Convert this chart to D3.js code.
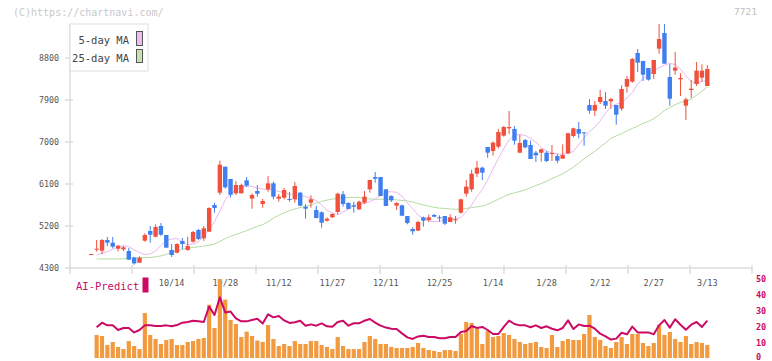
<!DOCTYPE html>
<html><head><meta charset="utf-8">
<script src="https://cdn.jsdelivr.net/npm/d3@7"></script>
<style>
html,body{margin:0;padding:0;background:#fff;}
svg{display:block;font-family:"DejaVu Sans Mono",monospace;}
</style></head>
<body><svg id="chart" width="772" height="361"></svg>
<script>
const openP = [4586,4700,4671,4900,4842,4714,4700,4664,4521,4414,4886,5093,4971,5200,5007,4686,4628,4879,4686,4864,
5114,4936,5079,5650,5914,6471,6207,5900,5900,6179,5786,5950,5671,5986,6114,5786,5807,5779,5771,5914,
5614,5700,5543,5493,5314,5386,5500,5879,5693,5643,5557,5700,5986,6250,6250,5986,5843,5636,5643,5414,
5136,5100,5386,5329,5436,5386,5414,5286,5329,5486,5893,5986,6321,6450,6893,6807,6900,7136,7293,7279,
6771,7043,6936,6771,6771,6771,6750,6700,6643,6757,7129,7279,7207,7793,7671,7857,7879,7871,7793,7714,
8186,8293,8907,8736,8586,8457,9000,9336,8393,8529,8343,7779,8114,8243,8379,8200];
const highP = [4600,4900,4921,4964,4964,4793,4771,4729,4543,4550,5043,5200,5236,5264,5007,4814,4829,4943,4971,5093,
5136,5200,5600,5700,6600,6471,6207,6164,6107,6250,5900,6079,5779,6271,6150,5886,6014,5929,6143,5929,
5671,5857,5629,5514,5386,5471,5914,5950,5707,5721,5743,5950,6186,6357,6250,5986,5857,5707,5657,5414,
5171,5314,5400,5443,5457,5429,5414,5450,5414,5786,6186,6407,6593,6471,6893,7014,7279,7343,7664,7343,
7157,7064,7029,6807,6857,6807,6936,6743,6950,7200,7307,7429,7207,7921,7879,8114,8071,7943,7793,8214,
8414,8800,8993,8736,8586,8757,9529,9529,8671,8929,8471,7950,8329,8714,8664,8650];
const lowP = [4586,4650,4593,4771,4721,4657,4664,4471,4371,4407,4864,4843,4957,4986,4736,4536,4614,4700,4671,4843,
4900,4879,5071,5486,5864,6000,5807,5864,5900,6036,5571,5829,5593,5936,5771,5721,5771,5721,5700,5621,
5357,5593,5364,5164,5293,5371,5450,5614,5564,5486,5543,5671,5914,6129,5843,5629,5714,5543,5414,5236,
5014,5093,5186,5286,5386,5293,5221,5286,5250,5464,5829,5936,6250,6186,6664,6707,6864,7114,7171,6943,
6764,6864,6636,6571,6579,6571,6593,6543,6636,6736,7100,7079,6921,7607,7557,7814,7707,7714,7371,7671,
8057,8271,8500,8307,8314,8350,8893,8679,7779,8443,7986,7471,7943,8200,8293,8200];
const closeP = [4600,4714,4900,4842,4757,4778,4743,4478,4400,4521,5007,5014,5179,5014,4736,4579,4814,4814,4771,5071,
4921,5150,5586,5586,6514,6029,5871,6079,6079,6064,5864,5893,5736,6114,5829,5829,5971,5764,6057,5636,
5571,5771,5371,5271,5357,5457,5893,5671,5564,5614,5721,5829,6186,6214,5843,5629,5750,5693,5421,5264,
5086,5286,5314,5386,5400,5364,5250,5386,5343,5771,6043,6321,6450,6343,6771,6986,7214,7321,7321,7029,
6979,6886,6636,6714,6843,6593,6764,6600,6721,7186,7293,7179,7193,7671,7793,7964,7779,7921,7586,8136,
8350,8779,8700,8443,8336,8757,9207,8679,7929,8593,8371,7914,8143,8529,8529,8564];
const ma5 = [null,4580,4620,4650,4700,4760,4778,4760,4690,4630,4590,4600,4660,4780,4890,4920,4930,4850,4795,4815,
4860,4980,5120,5290,5520,5760,5890,5975,6020,6057,6050,6010,5990,5980,5971,5940,5915,5886,5870,5850,
5830,5790,5745,5650,5540,5480,5440,5500,5560,5635,5675,5683,5720,5780,5850,5925,5935,5920,5840,5700,
5570,5430,5360,5305,5293,5300,5330,5345,5360,5380,5500,5650,5830,5980,6190,6420,6650,6860,7040,7150,
7160,7140,7080,6990,6880,6810,6765,6745,6737,6760,6800,6940,7090,7220,7320,7450,7620,7750,7810,7850,
7940,8060,8240,8360,8450,8520,8590,8645,8686,8660,8560,8420,8300,8245,8300,8314];
const ma25 = [null,4493,4493,4493,4493,4493,4500,4515,4521,4521,4521,4525,4540,4560,4590,4630,4665,4700,4725,4740,
4755,4770,4790,4810,4870,4930,4980,5020,5060,5100,5150,5190,5230,5290,5370,5430,5480,5530,5565,5595,
5620,5650,5690,5730,5755,5775,5795,5805,5810,5814,5810,5795,5780,5772,5771,5771,5771,5760,5748,5738,
5715,5680,5650,5625,5600,5585,5575,5565,5558,5560,5575,5595,5610,5630,5660,5720,5775,5830,5880,5910,
5940,5975,6020,6070,6110,6160,6215,6265,6320,6390,6460,6550,6640,6720,6800,6890,6980,7080,7130,7180,
7240,7290,7340,7400,7440,7500,7580,7680,7740,7800,7850,7880,7920,8000,8090,8180];
const aiBars = [null,14.4,13.75,8.1,10,6.9,5.6,10.6,7.5,5.6,28.1,14.4,11.9,8.75,11.25,11.9,8.1,8.1,10,10.6,
11.9,12.5,33.3,18.75,49.4,36.5,23.75,21.25,13.1,16.5,13.75,10.9,10,20.6,11.9,7.5,8.75,7.5,10.6,8.75,
8.75,10.6,10.6,8.1,6.9,5.6,13.1,7.5,5.6,5.6,5.6,10,13.75,11.9,8.75,8.75,6.9,6.25,6.25,6.25,
6.9,9.4,6.25,5,4.4,3.75,5,5,4.4,15,22.5,21.9,18.1,8.75,16.9,13.1,13.75,15.6,14.4,11.9,
10,8.75,9.4,10,6.9,6.25,14.4,6.9,10.6,11.9,11.25,11.25,15,26.9,13.1,11.25,7.5,6.25,10,13.1,
8.75,15,15,9.4,7.5,9.4,20.6,14.4,16.25,11.9,10,13.75,8.75,10,9.4,8.1];
const aiLine = [null,19.2,22.1,20.4,20.4,17.5,18.75,18.75,16.0,17.5,20.4,20.4,20,20,20.4,19.8,20.6,22.1,22.5,23.3,
22.9,22.5,32.1,26.9,37.9,28.5,29,24.8,22.9,22.9,23.8,24.5,21.5,27.3,25.4,26.25,23.5,21.9,22.3,23.3,
20.2,21,20.2,21.6,19.8,19.6,22.5,23.3,20.2,21.7,21.7,23.3,24.4,22.1,20.2,19.0,18.3,18.1,15.4,12.9,
11.9,13.5,13.9,13.1,13.1,12.3,12.3,13.1,13.1,16.25,16.9,20,18.75,19.4,17.5,15,15,19.4,23.3,21.25,
20.4,20.4,19.2,20.4,18.75,19.8,18.3,17.3,18.75,23.5,18.1,21,20,20.2,18.3,15.2,13.5,11.5,12.1,15.8,
14.8,19.6,16,16,16,14.8,20.4,23.75,19,24.2,20.8,17.7,20.8,22.5,19.4,23.3];
const tickIndex = [15,25,35,45,55,65,75,85,95,105,115];
const tickLabels = ["10/14","10/28","11/12","11/27","12/11","12/25","1/14","1/28","2/12","2/27","3/13"];
const yTicks = [4300,5200,6100,7000,7900,8800];
const aiTicks = [0,10,20,30,40,50];
const gridCount = 11;

const svg = d3.select("#chart");
const N = closeP.length;
const x = d3.scaleLinear().domain([0, N-1]).range([91.3, 707.3]);
const y = d3.scaleLinear().domain([4300, 8800]).range([268, 58]);
const yb = d3.scaleLinear().domain([0, 50]).range([358, 278]);
const gx = d3.scaleLinear().domain([0, gridCount]).range([70, 752]);
const idx = d3.range(N);
const RED = "#f0503c", BLUE = "#3f7ff0", AXIS = "#dddddd";

// watermark & code
svg.append("text").attr("x", 13).attr("y", 16).attr("font-size", 10).attr("fill", "#c8c8c8").text("(C)https://chartnavi.com/");
svg.append("text").attr("x", 757).attr("y", 15).attr("text-anchor", "end").attr("font-size", 9.5).attr("fill", "#c0c0c0").text("7721");

// axes
svg.append("line").attr("x1", 70).attr("x2", 70).attr("y1", 24).attr("y2", 268).attr("stroke", AXIS).attr("stroke-width", 1.5);
svg.append("line").attr("x1", 70).attr("x2", 752).attr("y1", 268).attr("y2", 268).attr("stroke", AXIS).attr("stroke-width", 1.5);
svg.selectAll(".gt").data(d3.range(gridCount + 1)).join("line")
  .attr("x1", d => gx(d)).attr("x2", d => gx(d)).attr("y1", 265).attr("y2", 274)
  .attr("stroke", AXIS).attr("stroke-width", 1.5);
svg.selectAll(".yt").data(yTicks).join("line")
  .attr("x1", 65).attr("x2", 73).attr("y1", d => y(d)).attr("y2", d => y(d))
  .attr("stroke", AXIS).attr("stroke-width", 1.5);
svg.selectAll(".yl").data(yTicks).join("text")
  .attr("x", 59).attr("y", d => y(d) + 3).attr("text-anchor", "end")
  .attr("font-size", 8.3).attr("fill", "#555").text(d => d);
svg.selectAll(".xl").data(tickIndex).join("text")
  .attr("x", d => x(d)).attr("y", 285.5).attr("text-anchor", "middle")
  .attr("font-size", 8.5).attr("fill", "#555").text((d, i) => tickLabels[i]);

// MAs
const line = d3.line().defined(d => d[1] != null).x(d => x(d[0])).y(d => y(d[1]));
svg.append("path").attr("d", line(idx.map(i => [i, ma25[i]]))).attr("fill", "none").attr("stroke", "#b5dca3").attr("stroke-width", 1);
svg.append("path").attr("d", line(idx.map(i => [i, ma5[i]]))).attr("fill", "none").attr("stroke", "#eab8ee").attr("stroke-width", 1);

// candles
const bw = 4.4;
const g = svg.append("g");
idx.forEach(i => {
  const up = closeP[i] >= openP[i];
  const c = up ? RED : BLUE;
  const cx = x(i);
  if (highP[i] > lowP[i]) {
    g.append("line").attr("x1", cx).attr("x2", cx).attr("y1", y(highP[i])).attr("y2", y(lowP[i])).attr("stroke", c).attr("stroke-width", 1);
  }
  const top = y(Math.max(openP[i], closeP[i]));
  const bot = y(Math.min(openP[i], closeP[i]));
  g.append("rect").attr("x", cx - bw / 2).attr("y", top).attr("width", bw).attr("height", Math.max(1, bot - top)).attr("fill", c);
});

// legend
svg.append("rect").attr("x", 70).attr("y", 24).attr("width", 78).attr("height", 47).attr("fill", "#fff").attr("stroke", "#dedede").attr("stroke-width", 1);
svg.append("text").attr("x", 129).attr("y", 44).attr("text-anchor", "end").attr("font-size", 10.5).attr("fill", "#444").text("5-day MA");
svg.append("text").attr("x", 129).attr("y", 62).attr("text-anchor", "end").attr("font-size", 10.5).attr("fill", "#444").text("25-day MA");
svg.append("rect").attr("x", 136.5).attr("y", 31.5).attr("width", 6).attr("height", 14).attr("fill", "#eebcee").attr("stroke", "#555");
svg.append("rect").attr("x", 136.5).attr("y", 49.5).attr("width", 6).attr("height", 13).attr("fill", "#c3e2b0").attr("stroke", "#555");

// AI panel
const AI = "#cc0a64";
svg.append("text").attr("x", 76).attr("y", 290).attr("font-size", 10.5).attr("fill", AI).text("AI-Predict");
svg.append("rect").attr("x", 142.5).attr("y", 277.5).attr("width", 6).attr("height", 15).attr("fill", AI);
svg.selectAll(".bar").data(idx.filter(i => aiBars[i] != null)).join("rect")
  .attr("x", i => x(i) - 2.1).attr("width", 4.2)
  .attr("y", i => yb(aiBars[i])).attr("height", i => yb(0) - yb(aiBars[i]))
  .attr("fill", "#f29a3f");
svg.append("path").attr("d", d3.line().defined(d => d[1] != null).x(d => x(d[0])).y(d => yb(d[1]))(idx.map(i => [i, aiLine[i]])))
  .attr("fill", "none").attr("stroke", AI).attr("stroke-width", 2).attr("stroke-linejoin", "round");
svg.selectAll(".al").data(aiTicks).join("text")
  .attr("x", 756).attr("y", d => Math.min(yb(d) + 3.5, 359.5)).attr("font-size", 8.5).attr("font-weight", "bold").attr("fill", AI).text(d => d);
</script></body></html>
